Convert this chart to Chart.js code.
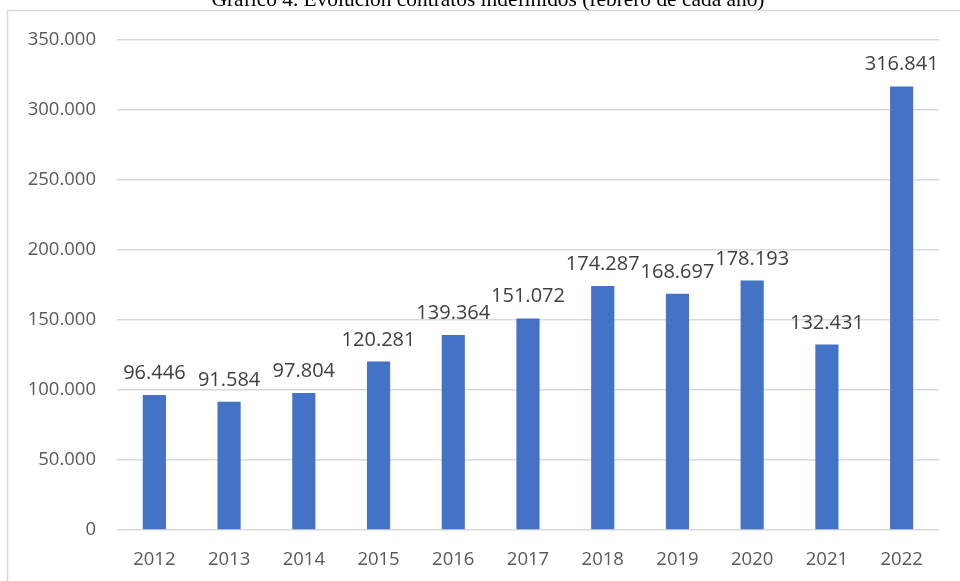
<!DOCTYPE html>
<html>
<head>
<meta charset="utf-8">
<script src="https://cdn.jsdelivr.net/npm/chart.js@4/dist/chart.umd.min.js"></script>
<style>
html,body{margin:0;padding:0;background:#fff;overflow:hidden;}
#wrap{position:relative;width:960px;height:581px;}
</style>
</head>
<body>
<div id="wrap"><canvas id="c" width="960" height="581"></canvas></div>
<script>
const titleText = "Gráfico 4. Evolución contratos indefinidos (febrero de cada año)";
const categories = ["2012","2013","2014","2015","2016","2017","2018","2019","2020","2021","2022"];
const contratos = [96446, 91584, 97804, 120281, 139364, 151072, 174287, 168697, 178193, 132431, 316841];
const yTicks = [0, 50000, 100000, 150000, 200000, 250000, 300000, 350000];

function fmt(v){
  return String(Math.round(v)).replace(/\B(?=(\d{3})+(?!\d))/g, ".");
}

const frameAndTitle = {
  id: 'frameAndTitle',
  beforeDraw(chart){
    const ctx = chart.ctx;
    ctx.save();
    ctx.fillStyle = '#fff';
    ctx.fillRect(0,0,chart.width,chart.height);
    ctx.strokeStyle = '#d9d9d9';
    ctx.lineWidth = 1.5;
    ctx.beginPath();
    ctx.moveTo(7.5, chart.height);
    ctx.lineTo(7.5, 10.5);
    ctx.lineTo(chart.width, 10.5);
    ctx.stroke();
    ctx.fillStyle = '#000';
    ctx.font = '21.4px "Liberation Serif", "Times New Roman", serif';
    ctx.textAlign = 'center';
    ctx.textBaseline = 'alphabetic';
    ctx.fillText(titleText, 488, 6);
    ctx.restore();
  }
};

const valueLabels = {
  id: 'valueLabels',
  afterDatasetsDraw(chart){
    const ctx = chart.ctx;
    const meta = chart.getDatasetMeta(0);
    ctx.save();
    ctx.fillStyle = '#404040';
    ctx.font = '20px "Open Sans", "Noto Sans", sans-serif';
    ctx.textAlign = 'center';
    ctx.textBaseline = 'alphabetic';
    meta.data.forEach((bar, i) => {
      ctx.fillText(fmt(chart.data.datasets[0].data[i]), bar.x, bar.y - 16);
    });
    ctx.restore();
  }
};

new Chart(document.getElementById('c'), {
  type: 'bar',
  data: {
    labels: categories,
    datasets: [{
      data: contratos,
      backgroundColor: '#4472C4',
      borderWidth: 0,
      categoryPercentage: 1.0,
      barPercentage: 0.31
    }]
  },
  options: {
    responsive: false,
    animation: false,
    devicePixelRatio: 1,
    layout: { padding: { left: 0, right: 21, top: 40, bottom: 0 } },
    plugins: {
      legend: { display: false },
      tooltip: { enabled: false },
      title: { display: false }
    },
    scales: {
      x: {
        grid: { display: false },
        border: { display: false },
        ticks: {
          color: '#595959',
          font: { family: '"Open Sans", "Noto Sans", sans-serif', size: 18.5 },
          padding: 11,
          maxRotation: 0
        },
        afterFit(scale){ scale.height = 51; }
      },
      y: {
        min: 0,
        max: 350000,
        afterBuildTicks(scale){ scale.ticks = yTicks.map(v => ({value: v})); },
        grid: { color: '#d9d9d9', lineWidth: 1.5, drawTicks: false },
        border: { display: false },
        ticks: {
          color: '#595959',
          font: { family: '"Open Sans", "Noto Sans", sans-serif', size: 18.5 },
          padding: 21,
          callback: v => fmt(v)
        },
        afterFit(scale){ scale.width = 117; }
      }
    }
  },
  plugins: [frameAndTitle, valueLabels]
});
</script>
</body>
</html>
